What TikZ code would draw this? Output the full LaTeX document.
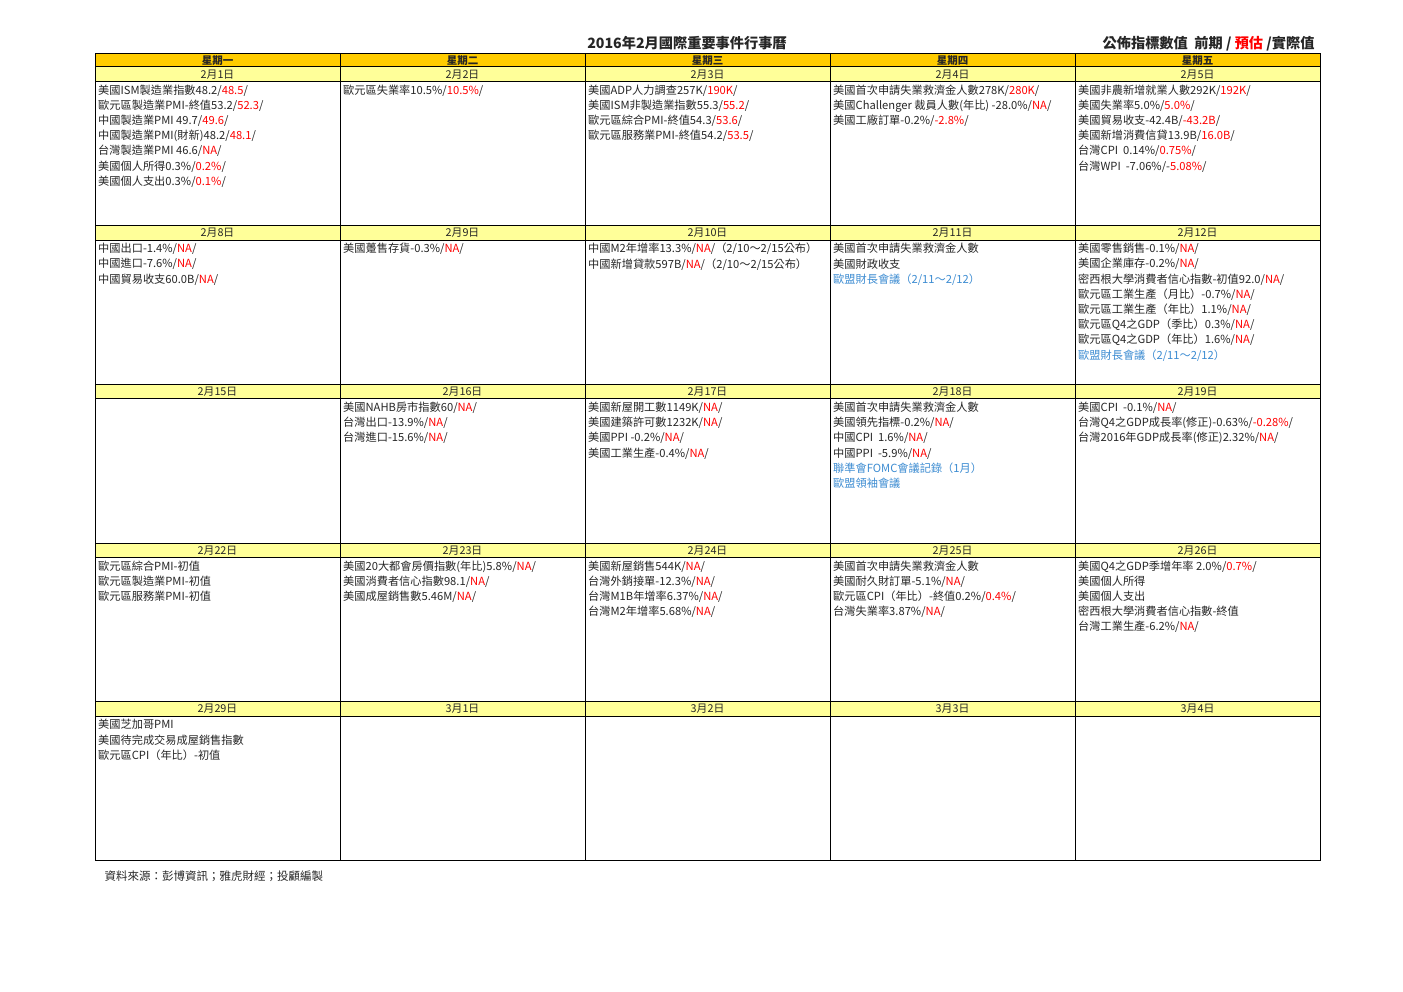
\documentclass[tikz,border=0pt]{standalone}
\usepackage{fontspec}
\setmainfont{Noto Sans CJK TC}
\definecolor{hdr}{HTML}{FFCC00}
\definecolor{dte}{HTML}{FFFF99}
\definecolor{ink}{HTML}{262626}
\definecolor{rdc}{HTML}{FF0000}
\definecolor{blc}{HTML}{3C8CD2}
\newcommand\redt[1]{\textcolor{rdc}{#1}}
\newcommand\bluet[1]{\textcolor{blc}{#1}}
\tikzset{
  hdrcell/.style={draw=black, line width=1pt, fill=hdr, minimum width=245pt, minimum height=13pt,
    inner sep=0pt, outer sep=0pt, anchor=north west, text=ink, font=\fontsize{10.5}{12}\selectfont\bfseries},
  datecell/.style={draw=black, line width=1pt, fill=dte, minimum width=245pt, minimum height=14.5pt,
    inner sep=0pt, outer sep=0pt, anchor=north west, text=ink, font=\fontsize{10.8}{12}\selectfont},
  bodycell/.style={draw=black, line width=1pt, minimum width=245pt, minimum height=144.2pt,
    inner sep=0pt, outer sep=0pt, anchor=north west},
  celltext/.style={anchor=north west, align=left, inner sep=0pt, text=ink,
    font=\fontsize{11.2}{15.2}\selectfont},
}
\newcommand\calcell[4]{%
  \pgfmathsetmacro\cx{95+(#2-1)*245}%
  \pgfmathsetmacro\cy{67+(#1-1)*158.7}%
  \node[datecell] (d#1#2) at (\cx,\cy) {#3};
  \node[bodycell] (b#1#2) at (\cx,\cy+14.5) {};
  \node[celltext] (t#1#2) at (\cx+3,\cy+17.4) {#4};
}
\begin{document}
\begin{tikzpicture}[x=1pt,y=-1pt]
\fill[white] (0,0) rectangle (1403,992);
\useasboundingbox (0,0) rectangle (1403,992);

\node[font=\fontsize{14.2}{16}\selectfont\bfseries, text=ink] (title) at (687,43) {2016年2月國際重要事件行事曆};
\node[anchor=east, font=\fontsize{14.2}{16}\selectfont\bfseries, text=ink] (legend) at (1318,44)
  {公佈指標數值\ \ 前期 / \redt{預估} /實際值};

\node[hdrcell] (h1) at (95,54) {星期一};
\node[hdrcell] (h2) at (340,54) {星期二};
\node[hdrcell] (h3) at (585,54) {星期三};
\node[hdrcell] (h4) at (830,54) {星期四};
\node[hdrcell] (h5) at (1075,54) {星期五};

% row 1
\calcell{1}{1}{2月1日}{美國ISM製造業指數48.2/\redt{48.5}/\\歐元區製造業PMI-終值53.2/\redt{52.3}/\\中國製造業PMI 49.7/\redt{49.6}/\\中國製造業PMI(財新)48.2/\redt{48.1}/\\台灣製造業PMI 46.6/\redt{NA}/\\美國個人所得0.3\%/\redt{0.2\%}/\\美國個人支出0.3\%/\redt{0.1\%}/}
\calcell{1}{2}{2月2日}{歐元區失業率10.5\%/\redt{10.5\%}/}
\calcell{1}{3}{2月3日}{美國ADP人力調查257K/\redt{190K}/\\美國ISM非製造業指數55.3/\redt{55.2}/\\歐元區綜合PMI-終值54.3/\redt{53.6}/\\歐元區服務業PMI-終值54.2/\redt{53.5}/}
\calcell{1}{4}{2月4日}{美國首次申請失業救濟金人數278K/\redt{280K}/\\美國Challenger 裁員人數(年比) -28.0\%/\redt{NA}/\\美國工廠訂單-0.2\%/\redt{-2.8\%}/}
\calcell{1}{5}{2月5日}{美國非農新增就業人數292K/\redt{192K}/\\美國失業率5.0\%/\redt{5.0\%}/\\美國貿易收支-42.4B/\redt{-43.2B}/\\美國新增消費信貸13.9B/\redt{16.0B}/\\台灣CPI\ \ 0.14\%/\redt{0.75\%}/\\台灣WPI\ \ -7.06\%/-\redt{5.08\%}/}

% row 2
\calcell{2}{1}{2月8日}{中國出口-1.4\%/\redt{NA}/\\中國進口-7.6\%/\redt{NA}/\\中國貿易收支60.0B/\redt{NA}/}
\calcell{2}{2}{2月9日}{美國躉售存貨-0.3\%/\redt{NA}/}
\calcell{2}{3}{2月10日}{中國M2年增率13.3\%/\redt{NA}/（2/10～2/15公布）\\中國新增貸款597B/\redt{NA}/（2/10～2/15公布）}
\calcell{2}{4}{2月11日}{美國首次申請失業救濟金人數\\美國財政收支\\\bluet{歐盟財長會議（2/11～2/12）}}
\calcell{2}{5}{2月12日}{美國零售銷售-0.1\%/\redt{NA}/\\美國企業庫存-0.2\%/\redt{NA}/\\密西根大學消費者信心指數-初值92.0/\redt{NA}/\\歐元區工業生產（月比）-0.7\%/\redt{NA}/\\歐元區工業生產（年比）1.1\%/\redt{NA}/\\歐元區Q4之GDP（季比）0.3\%/\redt{NA}/\\歐元區Q4之GDP（年比）1.6\%/\redt{NA}/\\\bluet{歐盟財長會議（2/11～2/12）}}

% row 3
\calcell{3}{1}{2月15日}{}
\calcell{3}{2}{2月16日}{美國NAHB房市指數60/\redt{NA}/\\台灣出口-13.9\%/\redt{NA}/\\台灣進口-15.6\%/\redt{NA}/}
\calcell{3}{3}{2月17日}{美國新屋開工數1149K/\redt{NA}/\\美國建築許可數1232K/\redt{NA}/\\美國PPI -0.2\%/\redt{NA}/\\美國工業生產-0.4\%/\redt{NA}/}
\calcell{3}{4}{2月18日}{美國首次申請失業救濟金人數\\美國領先指標-0.2\%/\redt{NA}/\\中國CPI\ \ 1.6\%/\redt{NA}/\\中國PPI\ \ -5.9\%/\redt{NA}/\\\bluet{聯準會FOMC會議記錄（1月）}\\\bluet{歐盟領袖會議}}
\calcell{3}{5}{2月19日}{美國CPI\ \ -0.1\%/\redt{NA}/\\台灣Q4之GDP成長率(修正)-0.63\%/\redt{-0.28\%}/\\台灣2016年GDP成長率(修正)2.32\%/\redt{NA}/}

% row 4
\calcell{4}{1}{2月22日}{歐元區綜合PMI-初值\\歐元區製造業PMI-初值\\歐元區服務業PMI-初值}
\calcell{4}{2}{2月23日}{美國20大都會房價指數(年比)5.8\%/\redt{NA}/\\美國消費者信心指數98.1/\redt{NA}/\\美國成屋銷售數5.46M/\redt{NA}/}
\calcell{4}{3}{2月24日}{美國新屋銷售544K/\redt{NA}/\\台灣外銷接單-12.3\%/\redt{NA}/\\台灣M1B年增率6.37\%/\redt{NA}/\\台灣M2年增率5.68\%/\redt{NA}/}
\calcell{4}{4}{2月25日}{美國首次申請失業救濟金人數\\美國耐久財訂單-5.1\%/\redt{NA}/\\歐元區CPI（年比）-終值0.2\%/\redt{0.4\%}/\\台灣失業率3.87\%/\redt{NA}/}
\calcell{4}{5}{2月26日}{美國Q4之GDP季增年率 2.0\%/\redt{0.7\%}/\\美國個人所得\\美國個人支出\\密西根大學消費者信心指數-終值\\台灣工業生產-6.2\%/\redt{NA}/}

% row 5
\calcell{5}{1}{2月29日}{美國芝加哥PMI\\美國待完成交易成屋銷售指數\\歐元區CPI（年比）-初值}
\calcell{5}{2}{3月1日}{}
\calcell{5}{3}{3月2日}{}
\calcell{5}{4}{3月3日}{}
\calcell{5}{5}{3月4日}{}

\node[anchor=west, font=\fontsize{11.5}{13}\selectfont, text=ink] (src) at (101,876) {資料來源：彭博資訊；雅虎財經；投顧編製};
\end{tikzpicture}
\end{document}
